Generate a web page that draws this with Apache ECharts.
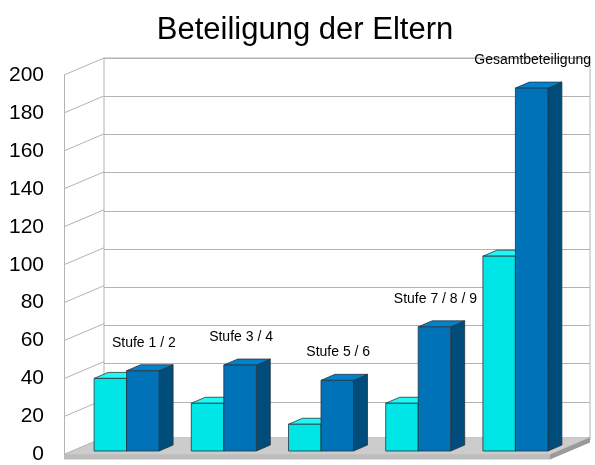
<!DOCTYPE html>
<html>
<head>
<meta charset="utf-8">
<script src="https://cdn.jsdelivr.net/npm/echarts@6/dist/echarts.min.js"></script>
<style>
html,body{margin:0;padding:0;background:#fff}
#chart{width:595px;height:465px}
</style>
</head>
<body>
<div id="chart"></div>
<script>
// Beteiligung der Eltern - Daten
var categories = ['Stufe 1 / 2', 'Stufe 3 / 4', 'Stufe 5 / 6', 'Stufe 7 / 8 / 9', 'Gesamtbeteiligung'];
var seriesA = [38, 25, 14, 25, 102];
var seriesB = [42, 45, 37, 65, 190];
var yTicks = [0, 20, 40, 60, 80, 100, 120, 140, 160, 180, 200];

var font = 'Liberation Sans, Arial, sans-serif';
var gridColor = '#b3b3b3';
var edge = '#27343c';
// Tiefe der Wand und der Balken
var wallDX = 40, wallDY = -17;
var barDX = 14, barDY = -6;
var halfW = 32.5;

function box(x, yTop, yBase, w, front, top, side) {
    return [
        {type: 'polygon', shape: {points: [[x + w, yTop], [x + w + barDX, yTop + barDY], [x + w + barDX, yBase + barDY], [x + w, yBase]]},
            style: {fill: side, stroke: edge, lineWidth: 0.8}},
        {type: 'polygon', shape: {points: [[x, yTop], [x + barDX, yTop + barDY], [x + w + barDX, yTop + barDY], [x + w, yTop]]},
            style: {fill: top, stroke: edge, lineWidth: 0.8}},
        {type: 'rect', shape: {x: x, y: yTop, width: w, height: yBase - yTop},
            style: {fill: front, stroke: edge, lineWidth: 0.8}}
    ];
}

function renderA(params, api) {
    var c = api.coord([api.value(0), api.value(1)]);
    var b = api.coord([api.value(0), 0]);
    return {type: 'group', children: box(c[0] - halfW, c[1], b[1], halfW, '#00e6e6', '#1ff7f7', '#00a8a8')};
}

function renderB(params, api) {
    var c = api.coord([api.value(0), api.value(1)]);
    var b = api.coord([api.value(0), 0]);
    var kids = box(c[0], c[1], b[1], halfW, '#0073b8', '#0083cf', '#004d7c');
    kids.push({
        type: 'text',
        style: {x: c[0] + halfW / 2 + 1, y: c[1] - 28, text: categories[api.value(0)],
            fill: '#000', font: '14px ' + font, align: 'center', verticalAlign: 'middle'}
    });
    return {type: 'group', children: kids};
}

function renderWall(params, api) {
    var p = api.coord([0, api.value(1)]);
    return {type: 'line', shape: {x1: p[0], y1: p[1], x2: p[0] + wallDX, y2: p[1] + wallDY},
        style: {stroke: gridColor, lineWidth: 1}};
}

function renderFloor(params, api) {
    var l = api.coord([0, 0]);
    var r = api.coord([1, 0]);
    var t = 5;
    return {type: 'group', children: [
        {type: 'polygon', shape: {points: [[l[0], l[1]], [l[0] + wallDX, l[1] + wallDY], [r[0] + wallDX, r[1] + wallDY], [r[0], r[1]]]},
            style: {fill: '#cccccc', stroke: '#b0b0b0', lineWidth: 0.6}},
        {type: 'rect', shape: {x: l[0], y: l[1], width: r[0] - l[0], height: t},
            style: {fill: '#bdbdbd'}},
        {type: 'polygon', shape: {points: [[r[0], r[1]], [r[0] + wallDX, r[1] + wallDY], [r[0] + wallDX, r[1] + wallDY + t], [r[0], r[1] + t]]},
            style: {fill: '#9a9a9a'}}
    ]};
}

var option = {
    backgroundColor: '#fff',
    animation: false,
    title: {
        text: 'Beteiligung der Eltern',
        left: 300,
        textAlign: 'center',
        top: 10,
        textStyle: {fontFamily: font, fontSize: 31, fontWeight: 'normal', color: '#000'}
    },
    grid: [
        {left: 104, top: 58, width: 486, height: 382, show: true, borderColor: gridColor, borderWidth: 1},
        {left: 64, top: 75, width: 486, height: 382},
        {left: 78, top: 69, width: 486, height: 382}
    ],
    xAxis: [
        {gridIndex: 0, type: 'category', data: categories, show: false},
        {gridIndex: 1, type: 'value', min: 0, max: 1, show: false},
        {gridIndex: 2, type: 'category', data: categories, show: false}
    ],
    yAxis: [
        {gridIndex: 0, type: 'value', min: 0, max: 200, interval: 20,
            axisLabel: {show: false}, axisLine: {show: false}, axisTick: {show: false},
            splitLine: {lineStyle: {color: gridColor, width: 1}}},
        {gridIndex: 1, type: 'value', min: 0, max: 200, interval: 20,
            axisLine: {show: true, lineStyle: {color: gridColor}}, axisTick: {show: false},
            splitLine: {show: false},
            axisLabel: {fontFamily: font, fontSize: 21, color: '#000', margin: 20}},
        {gridIndex: 2, type: 'value', min: 0, max: 200, show: false}
    ],
    series: [
        {type: 'custom', xAxisIndex: 1, yAxisIndex: 1, renderItem: renderWall,
            data: yTicks.map(function (v) { return [0, v]; }), silent: true, z: 1},
        {type: 'custom', xAxisIndex: 1, yAxisIndex: 1, renderItem: renderFloor,
            data: [[0, 0]], silent: true, z: 2},
        {type: 'custom', xAxisIndex: 2, yAxisIndex: 2, renderItem: renderA, clip: false,
            data: seriesA.map(function (v, i) { return [i, v]; }), z: 3},
        {type: 'custom', xAxisIndex: 2, yAxisIndex: 2, renderItem: renderB, clip: false,
            data: seriesB.map(function (v, i) { return [i, v]; }), z: 4}
    ]
};

var chart = echarts.init(document.getElementById('chart'));
chart.setOption(option);
</script>
</body>
</html>
